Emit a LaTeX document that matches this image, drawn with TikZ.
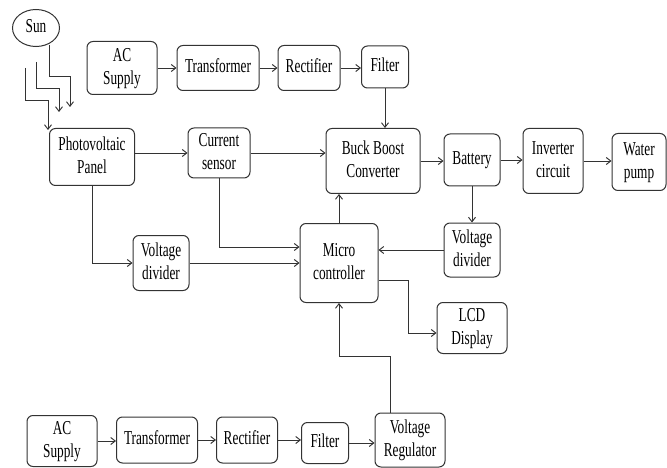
\documentclass[tikz,border=0pt]{standalone}
\usepackage{fontspec}
\setmainfont{Liberation Serif}
\usetikzlibrary{arrows.meta,shapes.geometric}
\newcommand\tx[1]{\scalebox{1}[1.48]{\begin{tabular}{@{}c@{}}#1\end{tabular}}}
\definecolor{ln}{HTML}{333333}
\tikzset{
  blk/.style={draw=ln, rounded corners=6pt, line width=1pt, inner sep=0pt, align=center,
    font=\fontsize{13.3}{15.5}\selectfont},
  arr/.style={draw=ln, line width=0.95pt, -{Straight Barb[length=4.5pt,width=7pt]}},
}
\begin{document}
\begin{tikzpicture}[x=1pt,y=-1pt]
\useasboundingbox (0,0) rectangle (667,468);
% sun
\node[draw=ln, ellipse, line width=1pt, minimum width=47pt, minimum height=37pt, inner sep=0pt,
  font=\fontsize{13.3}{15.5}\selectfont] (sun) at (36,28) {\tx{Sun}};
% top supply row
\node[blk, minimum width=70pt, minimum height=53pt] (ac1) at (122,68) {\tx{AC\\Supply}};
\node[blk, minimum width=82pt, minimum height=45pt] (tr1) at (218,68) {\tx{Transformer}};
\node[blk, minimum width=62pt, minimum height=45pt] (re1) at (309,68) {\tx{Rectifier}};
\node[blk, minimum width=47pt, minimum height=42pt] (fi1) at (385,67) {\tx{Filter}};
% main row
\node[blk, minimum width=85pt, minimum height=57pt] (pv) at (92,157) {\tx{Photovoltaic\\Panel}};
\node[blk, minimum width=62pt, minimum height=50pt] (cs) at (219,153) {\tx{Current\\sensor}};
\node[blk, minimum width=94pt, minimum height=65pt] (bb) at (373,161) {\tx{Buck Boost\\Converter}};
\node[blk, minimum width=56pt, minimum height=52pt] (bat) at (472,160) {\tx{Battery}};
\node[blk, minimum width=60pt, minimum height=65pt] (inv) at (553,161) {\tx{Inverter\\circuit}};
\node[blk, minimum width=54pt, minimum height=57pt] (wp) at (639,162) {\tx{Water\\pump}};
% middle
\node[blk, minimum width=56pt, minimum height=55pt] (vd1) at (161,263) {\tx{Voltage\\divider}};
\node[blk, minimum width=78pt, minimum height=79pt] (mc) at (339,263) {\tx{Micro\\controller}};
\node[blk, minimum width=56pt, minimum height=54pt] (vd2) at (472,250) {\tx{Voltage\\divider}};
\node[blk, minimum width=70pt, minimum height=51pt] (lcd) at (472,328) {\tx{LCD\\Display}};
% bottom row
\node[blk, minimum width=70pt, minimum height=51pt] (ac2) at (62,441) {\tx{AC\\Supply}};
\node[blk, minimum width=81pt, minimum height=46pt] (tr2) at (157,440) {\tx{Transformer}};
\node[blk, minimum width=61pt, minimum height=46pt] (re2) at (247,440) {\tx{Rectifier}};
\node[blk, minimum width=47pt, minimum height=41pt] (fi2) at (325,443) {\tx{Filter}};
\node[blk, minimum width=70pt, minimum height=54pt] (vr) at (410,440) {\tx{Voltage\\Regulator}};
% sun rays
\coordinate (ra) at (25,68);
\coordinate (rb) at (36,62);
\coordinate (rc) at (49,45);
\draw[arr] (ra) -- (25,100) -- (48,100) -- (48,130);
\draw[arr] (rb) -- (36,88) -- (59,88) -- (59,112);
\draw[arr] (rc) -- (49,76) -- (70,76) -- (70,107);
% top chain
\draw[arr] (ac1.east) -- (ac1.east -| tr1.west);
\draw[arr] (tr1.east) -- (tr1.east -| re1.west);
\draw[arr] (re1.east) -- (re1.east -| fi1.west);
\draw[arr] (fi1.south) -- (fi1.south |- bb.north);
% main row
\draw[arr] (pv.east |- cs.west) -- (cs.west);
\draw[arr] (cs.east) -- (cs.east -| bb.west);
\draw[arr] (bb.east) -- (bb.east -| bat.west);
\draw[arr] (bat.east) -- (bat.east -| inv.west);
\draw[arr] (inv.east) -- (inv.east -| wp.west);
% to micro
\draw[arr] (pv.south) |- (vd1.west);
\draw[arr] (cs.south) |- ([yshift=16pt]mc.west);
\draw[arr] (vd1.east) -- (vd1.east -| mc.west);
\draw[arr] (mc.north) -- (mc.north |- bb.south);
\draw[arr] (bat.south) -- (vd2.north);
\draw[arr] (vd2.west) -- (vd2.west -| mc.east);
\draw[arr] ([yshift=-17pt]mc.east) -- ++(30,0) |- ([yshift=-5pt]lcd.west);
\draw[arr] ([xshift=-20pt]vr.north) -- ++(0,-56) -| (mc.south);
% bottom chain
\draw[arr] (ac2.east) -- (ac2.east -| tr2.west);
\draw[arr] (tr2.east) -- (tr2.east -| re2.west);
\draw[arr] (re2.east) -- (re2.east -| fi2.west);
\draw[arr] (fi2.east) -- (fi2.east -| vr.west);
\end{tikzpicture}
\end{document}
